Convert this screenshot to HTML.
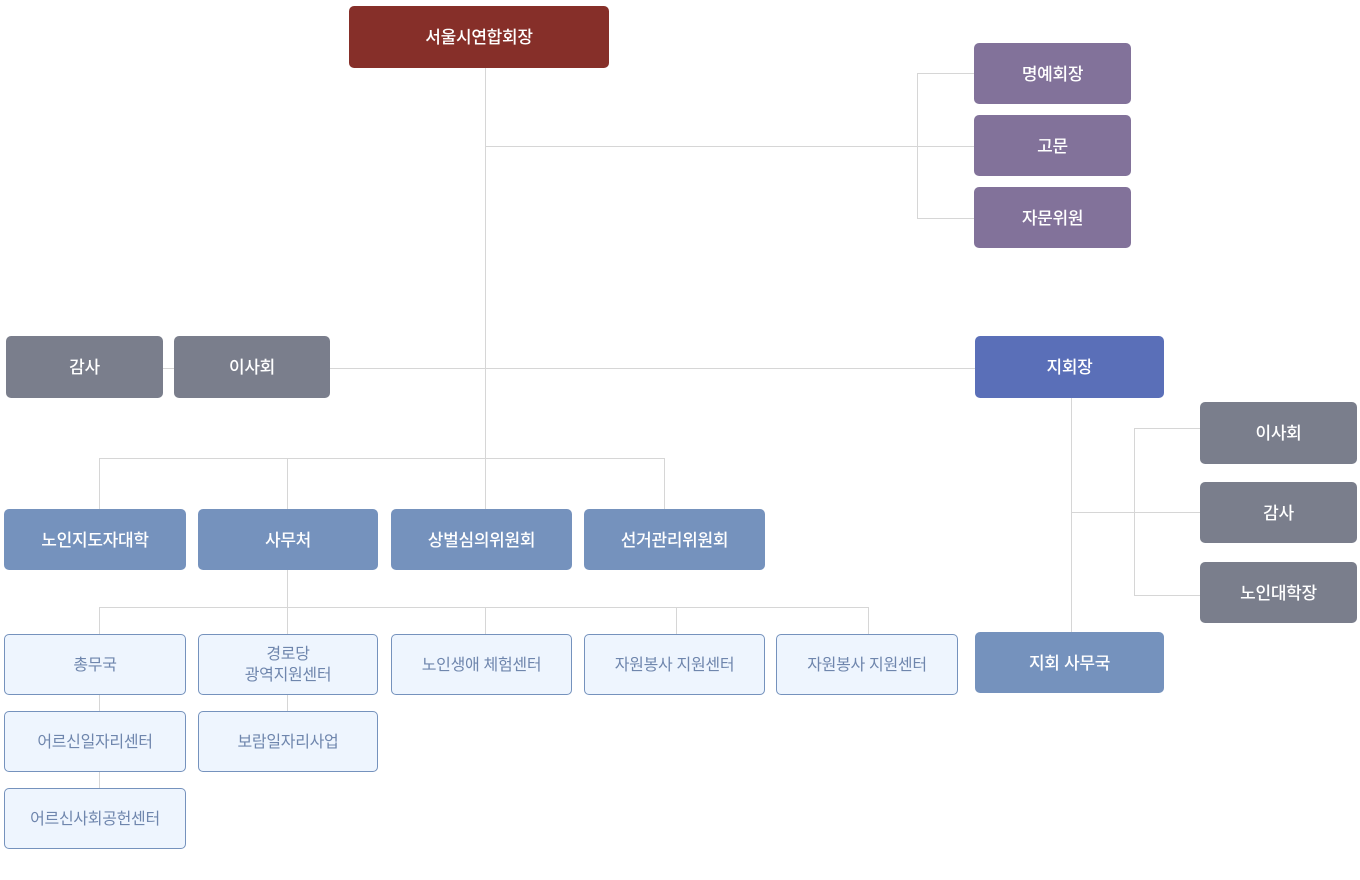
<!DOCTYPE html>
<html><head><meta charset="utf-8"><style>
body{margin:0;width:1360px;height:880px;background:#fff;position:relative;overflow:hidden;font-family:"Liberation Sans","Noto Sans CJK KR",sans-serif}
.b{position:absolute;display:flex;align-items:center;justify-content:center;text-align:center;color:#fff;font-size:17px;border-radius:5px;box-sizing:border-box;line-height:1.3;padding-top:3px;font-weight:500;letter-spacing:-0.3px}
.r{background:#862f29}.p{background:#82729a}.g{background:#7a7e8c}.bl{background:#5a6fb8}.s{background:#7592bd}
.l{background:#eef5fe;border:1px solid #7592bd;color:#6f86ad;font-size:16px;font-weight:400}
.h{position:absolute;height:1px;background:#d6d6d6}.v{position:absolute;width:1px;background:#d6d6d6}
</style></head><body>
<div class="v" style="left:485px;top:68px;height:441px"></div>
<div class="h" style="left:485px;top:146px;width:489px"></div>
<div class="v" style="left:917px;top:73px;height:146px"></div>
<div class="h" style="left:917px;top:73px;width:57px"></div>
<div class="h" style="left:917px;top:218px;width:57px"></div>
<div class="h" style="left:163px;top:368px;width:812px"></div>
<div class="h" style="left:99px;top:458px;width:566px"></div>
<div class="v" style="left:99px;top:458px;height:51px"></div>
<div class="v" style="left:287px;top:458px;height:51px"></div>
<div class="v" style="left:664px;top:458px;height:51px"></div>
<div class="v" style="left:287px;top:570px;height:141px"></div>
<div class="h" style="left:99px;top:607px;width:770px"></div>
<div class="v" style="left:99px;top:607px;height:181px"></div>
<div class="v" style="left:485px;top:607px;height:27px"></div>
<div class="v" style="left:676px;top:607px;height:27px"></div>
<div class="v" style="left:868px;top:607px;height:27px"></div>
<div class="v" style="left:1071px;top:398px;height:234px"></div>
<div class="h" style="left:1071px;top:512px;width:129px"></div>
<div class="v" style="left:1134px;top:428px;height:168px"></div>
<div class="h" style="left:1134px;top:428px;width:66px"></div>
<div class="h" style="left:1134px;top:595px;width:66px"></div>

<div class="b r" style="left:349px;top:6px;width:260px;height:62px">서울시연합회장</div>
<div class="b p" style="left:974px;top:43px;width:157px;height:61px">명예회장</div>
<div class="b p" style="left:974px;top:115px;width:157px;height:61px">고문</div>
<div class="b p" style="left:974px;top:187px;width:157px;height:61px">자문위원</div>
<div class="b g" style="left:6px;top:336px;width:157px;height:62px">감사</div>
<div class="b g" style="left:174px;top:336px;width:156px;height:62px">이사회</div>
<div class="b bl" style="left:975px;top:336px;width:189px;height:62px">지회장</div>
<div class="b g" style="left:1200px;top:402px;width:157px;height:62px">이사회</div>
<div class="b g" style="left:1200px;top:482px;width:157px;height:61px">감사</div>
<div class="b g" style="left:1200px;top:562px;width:157px;height:61px">노인대학장</div>
<div class="b s" style="left:975px;top:632px;width:189px;height:61px">지회 사무국</div>
<div class="b s" style="left:4px;top:509px;width:182px;height:61px">노인지도자대학</div>
<div class="b s" style="left:198px;top:509px;width:180px;height:61px">사무처</div>
<div class="b s" style="left:391px;top:509px;width:181px;height:61px">상벌심의위원회</div>
<div class="b s" style="left:584px;top:509px;width:181px;height:61px">선거관리위원회</div>
<div class="b l" style="left:4px;top:634px;width:182px;height:61px">총무국</div>
<div class="b l" style="left:198px;top:634px;width:180px;height:61px">경로당<br>광역지원센터</div>
<div class="b l" style="left:391px;top:634px;width:181px;height:61px">노인생애 체험센터</div>
<div class="b l" style="left:584px;top:634px;width:181px;height:61px">자원봉사 지원센터</div>
<div class="b l" style="left:776px;top:634px;width:182px;height:61px">자원봉사 지원센터</div>
<div class="b l" style="left:4px;top:711px;width:182px;height:61px">어르신일자리센터</div>
<div class="b l" style="left:198px;top:711px;width:180px;height:61px">보람일자리사업</div>
<div class="b l" style="left:4px;top:788px;width:182px;height:61px">어르신사회공헌센터</div>
</body></html>
